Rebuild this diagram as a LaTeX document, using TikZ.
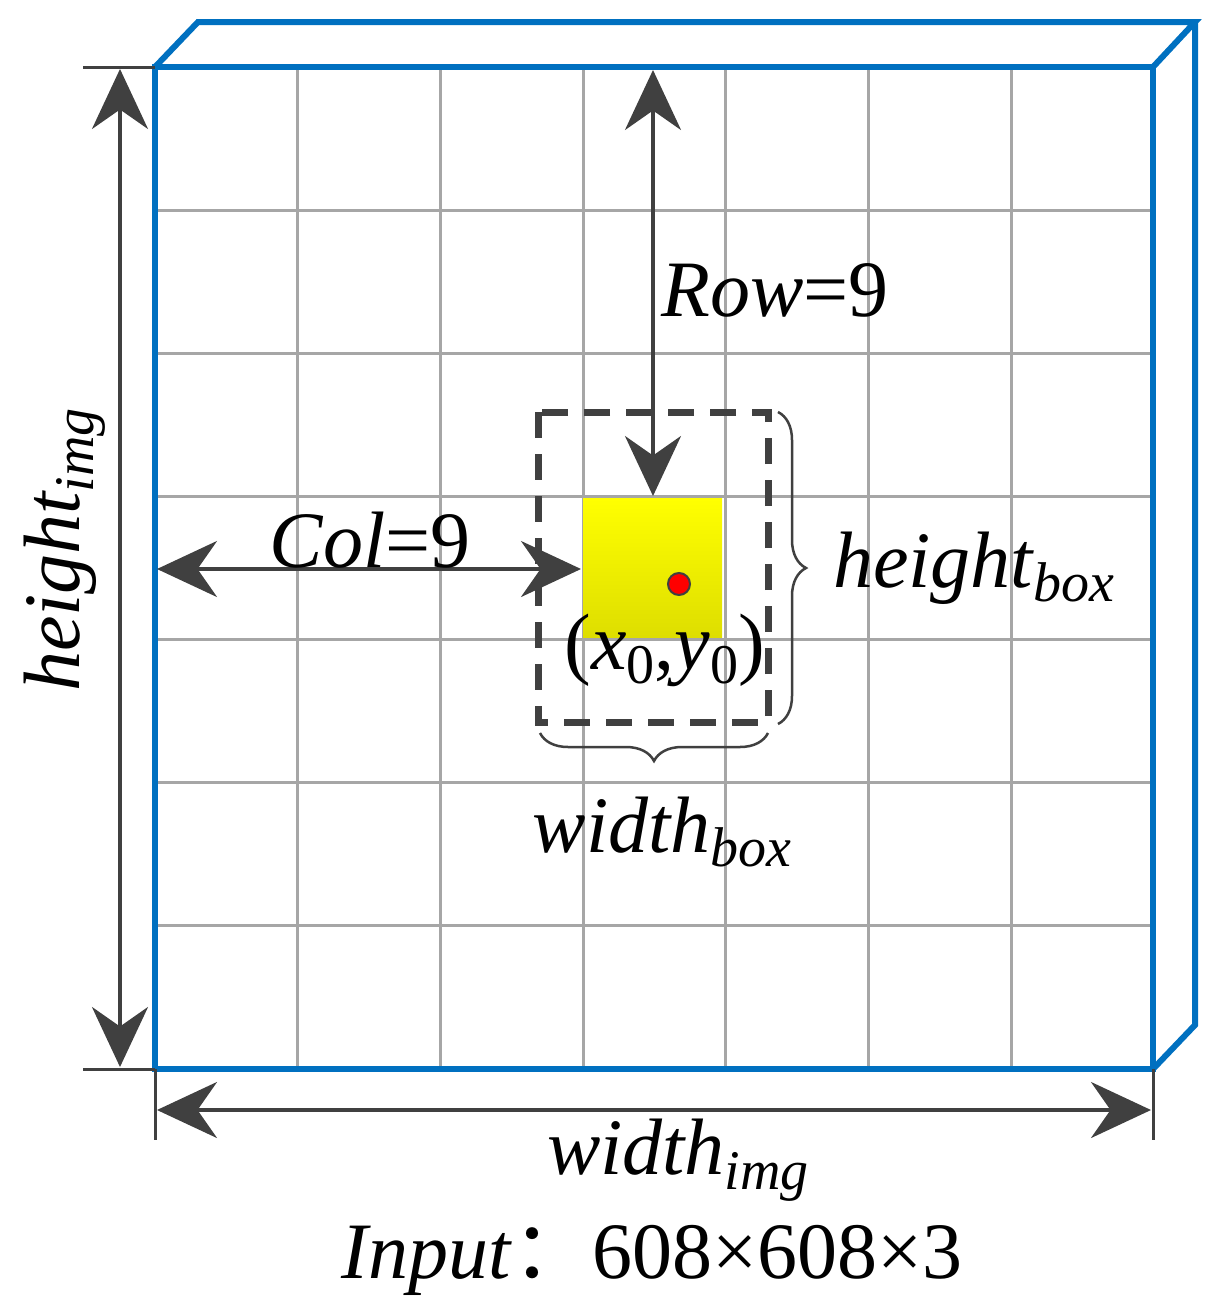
\documentclass[tikz,border=0pt]{standalone}
\usepackage{fontspec}
\setmainfont{Liberation Serif}
\newfontfamily\tnr{Liberation Serif}
\newfontfamily\cjk{Noto Sans CJK SC}
\usetikzlibrary{arrows.meta,decorations.pathreplacing}
\definecolor{bl}{RGB}{0,112,192}
\definecolor{dg}{RGB}{64,64,64}
\tikzset{
 dim/.style={draw=dg,line width=3.5pt,{Stealth[length=60pt,width=56pt]}-{Stealth[length=60pt,width=56pt]}},
 tick/.style={draw=dg,line width=3pt},
 lbl/.style={font=\tnr\fontsize{80}{90}\selectfont\itshape,inner sep=0pt},
 brc/.style={draw=dg,line width=2.5pt,decorate,decoration={brace,amplitude=28pt}}
}
\newcommand{\sbs}[1]{\raisebox{-0.18em}{\fontsize{56}{60}\selectfont\itshape #1}}
\begin{document}
\begin{tikzpicture}[x=1pt,y=-1pt]
\useasboundingbox (0,0) rectangle (1228,1312);
\foreach \x in {297,440,583,725,868,1011} \draw[gray!70,line width=3pt] (\x,67)--(\x,1069);
\foreach \y in {210,353,496,639,782,925} \draw[gray!70,line width=3pt] (155,\y)--(1153,\y);
\shade[top color=yellow,bottom color={rgb,255:red,222;green,222;blue,0}] (583,498) rectangle (722,637);
\node[circle,fill=red,draw=dg,line width=2pt,minimum size=22pt,inner sep=0pt] (dot) at (679,584) {};
\draw[bl,line width=6pt,line join=miter] (155,67)--(198,22)--(1195,22)--(1153,67);
\draw[bl,line width=6pt,line join=miter] (1195,22)--(1195,1025)--(1153,1069);
\draw[bl,line width=6pt] (155,67) rectangle (1153,1069);
\draw[dg,line width=7pt,dash pattern=on 26pt off 16pt] (538,412) rectangle (768,722);
\draw[tick] (83,67)--(155,67); \draw[tick] (83,1069)--(155,1069);
\coordinate (ht) at (120,69); \coordinate (hb) at (120,1067);
\draw[dim] (ht)--(hb);
\node[lbl,rotate=90] (himg) at (65,550) {height\sbs{img}};
\draw[tick] (155,1069)--(155,1140); \draw[tick] (1153,1069)--(1153,1140);
\coordinate (wl) at (157,1110); \coordinate (wr) at (1151,1110);
\draw[dim] (wl)--(wr);
\node[lbl] (wimg) at (678,1160) {width\sbs{img}};
\node[font=\tnr\fontsize{80}{90}\selectfont,inner sep=0pt] (inp) at (652,1260) {\textit{Input}{\cjk ：}608×608×3};
\coordinate (rt) at (653,70); \coordinate (rb) at (653,496);
\draw[dim] (rt)--(rb);
\node[lbl] (row) at (775,290) {Row\upshape=9};
\coordinate (cl) at (157,569); \coordinate (cr) at (581,569);
\draw[dim] (cl)--(cr);
\node[lbl] (col) at (370,540) {Col\upshape=9};
\node[font=\tnr\fontsize{80}{90}\selectfont,inner sep=0pt] (xy) at (665,650) {(\textit{x}\raisebox{-0.18em}{\fontsize{56}{60}\selectfont 0},\textit{y}\raisebox{-0.18em}{\fontsize{56}{60}\selectfont 0})};
\coordinate (b1) at (778,412); \coordinate (b2) at (778,724);
\draw[brc] (b1)--(b2);
\node[lbl,anchor=west] (hbox) at (833,568) {height\sbs{box}};
\coordinate (c1) at (768,733); \coordinate (c2) at (540,733);
\draw[brc] (c1)--(c2);
\node[lbl] (wbox) at (662,832) {width\sbs{box}};
\end{tikzpicture}
\end{document}
